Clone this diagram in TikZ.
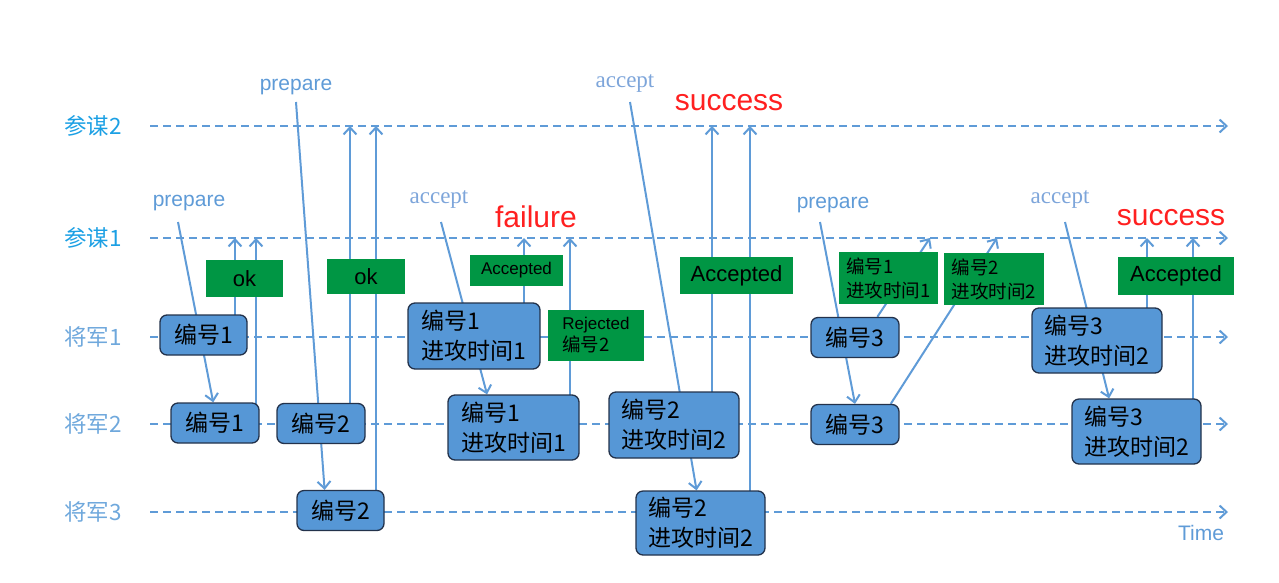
\documentclass[tikz,border=0pt]{standalone}
\usepackage{fontspec}
\setmainfont{Liberation Sans}
\newfontfamily\cjk{Noto Sans CJK SC}
\newfontfamily\tms{Liberation Serif}
\usetikzlibrary{arrows.meta,calc,backgrounds}
\definecolor{lineblue}{RGB}{95,155,215}
\definecolor{boxblue}{RGB}{86,151,214}
\definecolor{boxedge}{RGB}{35,50,75}
\definecolor{okgreen}{RGB}{0,150,68}
\definecolor{staffblue}{RGB}{28,160,228}
\definecolor{genblue}{RGB}{111,168,220}
\definecolor{accblue}{RGB}{125,165,218}
\definecolor{failred}{RGB}{255,32,32}
\tikzset{
  lane/.style={lineblue,line width=2pt,dash pattern=on 8pt off 5pt,
    -{Straight Barb[length=7pt,width=13pt]}},
  msg/.style={lineblue,line width=2pt,-{Straight Barb[length=7pt,width=13pt]}},
  staff/.style={staffblue,font=\cjk\fontsize{22.5}{24}\selectfont},
  gen/.style={genblue,font=\cjk\fontsize{22.5}{24}\selectfont},
  prep/.style={lineblue,font=\fontsize{21}{24}\selectfont},
  acc/.style={accblue,font=\tms\fontsize{23}{26}\selectfont},
  result/.style={failred,font=\fontsize{30}{34}\selectfont},
  bluebox/.style={draw=boxedge,fill=boxblue,line width=1.3pt,rounded corners=7pt,
    inner sep=0pt,align=left,font=\cjk\fontsize{23}{30}\selectfont},
  greenbox/.style={fill=okgreen,inner sep=0pt,align=left},
  small/.style={font=\fontsize{17}{22}\selectfont},
  smallcjk/.style={font=\cjk\fontsize{18.5}{24}\selectfont}
}
\begin{document}
\begin{tikzpicture}[x=1pt,y=-1pt]
\useasboundingbox (0,0) rectangle (1279,582);
\node[staff] (c2) at (93,126) {参谋2};
\node[staff] (c1) at (93,238) {参谋1};
\node[gen] (g1) at (93,337) {将军1};
\node[gen] (g2) at (93,424) {将军2};
\node[gen] (g3) at (93,512) {将军3};
\coordinate (c2s) at (150,126);  \coordinate (c2e) at (1228,126);
\coordinate (c1s) at (150,238);  \coordinate (c1e) at (1228,238);
\coordinate (g1s) at (150,337);  \coordinate (g1e) at (1228,337);
\coordinate (g2s) at (150,424);  \coordinate (g2e) at (1228,424);
\coordinate (g3s) at (150,512);  \coordinate (g3e) at (1228,512);

\node[prep] (p1) at (189,203) {prepare};
\node[prep] (p2) at (296,87) {prepare};
\node[prep] (p3) at (833,205) {prepare};
\node[acc] (a1) at (439,199) {accept};
\node[acc] (a2) at (625,83) {accept};
\node[acc] (a3) at (1060,199) {accept};
\node[result] (f1) at (536,217) {failure};
\node[result] (s1) at (729,103) {success};
\node[result] (s2) at (1171,218) {success};
\node[prep] (tm) at (1201,533) {Time};

\node[bluebox,minimum width=87pt,minimum height=40pt] (b11) at (203.5,335) {编号1};
\node[bluebox,minimum width=88pt,minimum height=40pt] (b21) at (215,423) {编号1};
\node[bluebox,minimum width=88pt,minimum height=40pt] (b22) at (321,423.5) {编号2};
\node[bluebox,minimum width=87pt,minimum height=40pt] (b31) at (340.5,510.5) {编号2};
\node[bluebox,minimum width=132pt,minimum height=66pt] (b12) at (474,336) {编号1\\进攻时间1};
\node[bluebox,minimum width=131pt,minimum height=65pt] (b23) at (513.5,427.5) {编号1\\进攻时间1};
\node[bluebox,minimum width=130pt,minimum height=66pt] (b24) at (674,425) {编号2\\进攻时间2};
\node[bluebox,minimum width=129pt,minimum height=64pt] (b32) at (700.5,523) {编号2\\进攻时间2};
\node[bluebox,minimum width=88pt,minimum height=40pt] (b13) at (855,337.5) {编号3};
\node[bluebox,minimum width=88pt,minimum height=40pt] (b25) at (855,424.5) {编号3};
\node[bluebox,minimum width=130pt,minimum height=65pt] (b14) at (1097,340.5) {编号3\\进攻时间2};
\node[bluebox,minimum width=129pt,minimum height=65pt] (b26) at (1136.5,431.5) {编号3\\进攻时间2};

\node[greenbox,minimum width=77pt,minimum height=37pt,font=\fontsize{22}{24}\selectfont] (ok1) at (244.5,278.5) {ok};
\node[greenbox,minimum width=78pt,minimum height=35pt,font=\fontsize{22}{24}\selectfont] (ok2) at (366,276.5) {ok};
\node[greenbox,small,minimum width=93pt,minimum height=31pt] (ac1) at (516.5,270.5) {Accepted};
\node[greenbox,small,minimum width=96pt,minimum height=51pt] (rj) at (596,335.5) {Rejected\\{\cjk\fontsize{18.5}{22}\selectfont 编号2}};
\node[greenbox,minimum width=113pt,minimum height=37pt,font=\fontsize{22}{24}\selectfont] (ac2) at (736.5,275.5) {Accepted};
\node[greenbox,smallcjk,minimum width=99pt,minimum height=52pt] (gm1) at (888.5,278) {编号1\\进攻时间1};
\node[greenbox,smallcjk,minimum width=100pt,minimum height=52pt] (gm2) at (994,279) {编号2\\进攻时间2};
\node[greenbox,minimum width=116pt,minimum height=38pt,font=\fontsize{22}{24}\selectfont] (ac3) at (1176,276) {Accepted};

\coordinate (pr1) at (178,222);
\coordinate (pr2) at (296,102);
\coordinate (pr3) at (820,222);
\coordinate (ap1) at (441,222);
\coordinate (ap2) at (630,102);
\coordinate (ap3) at (1065,222);
\coordinate (k1) at (235,238);
\coordinate (k2) at (256,238);
\coordinate (k3) at (350,126);
\coordinate (k4) at (376,126);
\coordinate (k5) at (524,238);
\coordinate (k6) at (570,238);
\coordinate (k7) at (712,126);
\coordinate (k8) at (750,126);
\coordinate (k9) at (930,238);
\coordinate (k10) at (997,238);
\coordinate (k11) at (1147,238);
\coordinate (k12) at (1193,238);

\begin{scope}[on background layer]
  \draw[lane] (c2s) -- (c2e);
  \draw[lane] (c1s) -- (c1e);
  \draw[lane] (g1s) -- (g1e);
  \draw[lane] (g2s) -- (g2e);
  \draw[lane] (g3s) -- (g3e);
  \draw[msg] (pr1) -- ($(b21.north west)!.48!(b21.north east)$);
  \draw[msg] (b11 -| k1) -- (k1);
  \draw[msg] (b21 -| k2) -- (k2);
  \draw[msg] (pr2) -- ($(b31.north west)!.32!(b31.north east)$);
  \draw[msg] (b22 -| k3) -- (k3);
  \draw[msg] (b31 -| k4) -- (k4);
  \draw[msg] (ap1) -- ($(b23.north west)!.30!(b23.north east)$);
  \draw[msg] (b12 -| k5) -- (k5);
  \draw[msg] (b23 -| k6) -- (k6);
  \draw[msg] (ap2) -- ($(b32.north west)!.47!(b32.north east)$);
  \draw[msg] (b24 -| k7) -- (k7);
  \draw[msg] (b32 -| k8) -- (k8);
  \draw[msg] (pr3) -- ($(b25.north west)!.5!(b25.north east)$);
  \draw[msg] ($(b13.north west)!.75!(b13.north east)$) -- (k9);
  \draw[msg] ($(b25.north west)!.9!(b25.north east)$) -- (k10);
  \draw[msg] (ap3) -- ($(b26.north west)!.29!(b26.north east)$);
  \draw[msg] (b14 -| k11) -- (k11);
  \draw[msg] (b26 -| k12) -- (k12);
\end{scope}
\end{tikzpicture}
\end{document}
